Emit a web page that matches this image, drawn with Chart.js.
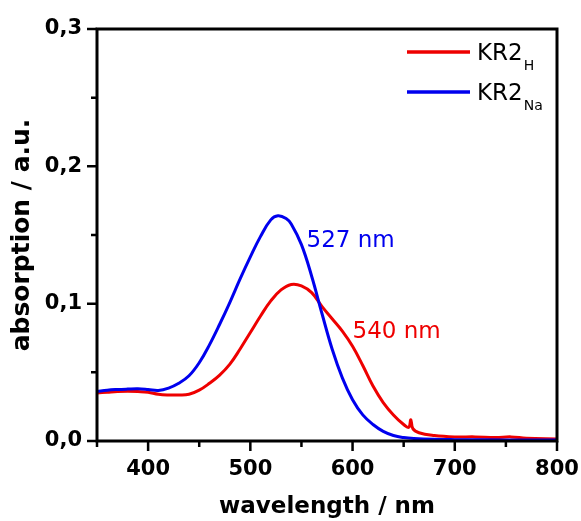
<!DOCTYPE html>
<html>
<head>
<meta charset="utf-8">
<script src="https://cdn.jsdelivr.net/npm/chart.js@4.4.1/dist/chart.umd.min.js"></script>
<style>
html, body { margin:0; padding:0; background:#fff; }
#wrap { width:581px; height:521px; }
</style>
</head>
<body>
<div id="wrap"><canvas id="spectrum" width="581" height="521"></canvas></div>
<script>
// absorption spectra (wavelength in nm)
const naWavelength = [350,360,370,380,390,400,410,420,430,440,450,460,470,480,490,500,510,520,527,535,540,550,560,570,580,590,600,610,620,630,640,650,660,680,700,750,800];
const naAbsorption = [0.036,0.037,0.0375,0.0378,0.038,0.0375,0.0368,0.0385,0.042,0.0475,0.057,0.070,0.085,0.101,0.118,0.134,0.149,0.161,0.164,0.162,0.158,0.143,0.120,0.093,0.067,0.046,0.030,0.019,0.012,0.007,0.004,0.0025,0.0018,0.0012,0.001,0.0008,0.0008];

const hWavelength = [350,360,370,380,390,400,410,420,430,440,450,460,470,480,490,500,510,520,530,540,550,560,570,580,590,600,610,620,630,640,650,655,657,659,665,680,700,720,740,755,770,800];
const hAbsorption = [0.035,0.0355,0.036,0.0362,0.036,0.0355,0.034,0.0335,0.0335,0.034,0.037,0.042,0.048,0.056,0.067,0.079,0.091,0.102,0.110,0.114,0.113,0.108,0.098,0.089,0.080,0.069,0.055,0.040,0.028,0.019,0.012,0.010,0.0155,0.009,0.006,0.004,0.003,0.003,0.0025,0.003,0.002,0.0015];

const xTicks = [400,500,600,700,800];
const yTicks = [0,0.1,0.2,0.3];
const xMinor = [350,450,550,650,750];
const yMinor = [0.05,0.15,0.25];

// peak annotations: [wavelength, absorption] where the text starts
const naPeakText = '527 nm', naPeakAt = [555, 0.141];
const hPeakText = '540 nm', hPeakAt = [600, 0.075];

const RED = '#ee0000';
const BLUE = '#0000ee';

Chart.defaults.font.family = 'DejaVu Sans';
Chart.defaults.color = '#000';

const toPts = (xs, ys) => xs.map((v, i) => ({x: v, y: ys[i]}));

// frame, tick marks, legend and peak labels
const decorations = {
    id: 'decorations',
    afterDatasetsDraw(chart) {
        const {ctx, chartArea: a, scales: {x, y}} = chart;
        ctx.save();
        ctx.strokeStyle = '#000';
        ctx.lineWidth = 3;
        ctx.strokeRect(a.left, a.top, a.right - a.left, a.bottom - a.top);

        ctx.lineWidth = 2.5;
        ctx.beginPath();
        xTicks.concat(xMinor).forEach(v => {
            const px = x.getPixelForValue(v);
            const len = xTicks.includes(v) ? 10 : 6;
            ctx.moveTo(px, a.bottom);
            ctx.lineTo(px, a.bottom + len);
        });
        yTicks.concat(yMinor).forEach(v => {
            const py = y.getPixelForValue(v);
            const len = yTicks.includes(v) ? 10 : 6;
            ctx.moveTo(a.left, py);
            ctx.lineTo(a.left - len, py);
        });
        ctx.stroke();

        // legend with subscripts
        const rows = [['KR2', 'H', RED, 52], ['KR2', 'Na', BLUE, 92]];
        rows.forEach(([main, sub, col, ly]) => {
            ctx.strokeStyle = col;
            ctx.lineWidth = 3.5;
            ctx.beginPath();
            ctx.moveTo(407, ly);
            ctx.lineTo(470, ly);
            ctx.stroke();
            ctx.fillStyle = '#000';
            ctx.textBaseline = 'alphabetic';
            ctx.textAlign = 'left';
            ctx.font = '23px "DejaVu Sans"';
            ctx.fillText(main, 477, ly + 7.5);
            const w = ctx.measureText(main).width;
            ctx.font = '14px "DejaVu Sans"';
            ctx.fillText(sub, 477 + w + 1, ly + 18);
        });

        // peak labels
        ctx.font = '23px "DejaVu Sans"';
        ctx.fillStyle = BLUE;
        ctx.fillText(naPeakText, x.getPixelForValue(naPeakAt[0]), y.getPixelForValue(naPeakAt[1]));
        ctx.fillStyle = RED;
        ctx.fillText(hPeakText, x.getPixelForValue(hPeakAt[0]), y.getPixelForValue(hPeakAt[1]));
        ctx.restore();
    }
};

new Chart(document.getElementById('spectrum'), {
    type: 'line',
    data: {
        datasets: [
            {label: 'KR2 Na', data: toPts(naWavelength, naAbsorption), borderColor: BLUE, borderWidth: 3, pointRadius: 0, tension: 0.4, fill: false},
            {label: 'KR2 H', data: toPts(hWavelength, hAbsorption), borderColor: RED, borderWidth: 3, pointRadius: 0, tension: 0.4, fill: false}
        ]
    },
    options: {
        responsive: false,
        animation: false,
        devicePixelRatio: 1,
        layout: {padding: {top: 29, right: 24, left: 0, bottom: 0}},
        plugins: {legend: {display: false}, tooltip: {enabled: false}},
        scales: {
            x: {
                type: 'linear', min: 350, max: 800,
                grid: {display: false, drawTicks: false},
                border: {display: false},
                afterBuildTicks: s => { s.ticks = xTicks.map(v => ({value: v})); },
                afterFit: s => { s.height = 80; s.paddingLeft = 0; s.paddingRight = 0; },
                ticks: {padding: 16, maxRotation: 0, font: {size: 21, weight: 'bold'}, callback: v => String(v)},
                title: {display: true, text: 'wavelength / nm', font: {size: 23, weight: 'bold'}, padding: {top: 0, bottom: 0}}
            },
            y: {
                min: 0, max: 0.3,
                grid: {display: false, drawTicks: false},
                border: {display: false},
                afterBuildTicks: s => { s.ticks = yTicks.map(v => ({value: v})); },
                afterFit: s => { s.width = 97; s.paddingTop = 0; s.paddingBottom = 0; },
                ticks: {padding: 15, font: {size: 21, weight: 'bold'}, callback: v => v.toFixed(1).replace('.', ',')},
                title: {display: true, text: 'absorption / a.u.', font: {size: 25, weight: 'bold'}, padding: {top: 7, bottom: 0}}
            }
        }
    },
    plugins: [decorations]
});
</script>
</body>
</html>
